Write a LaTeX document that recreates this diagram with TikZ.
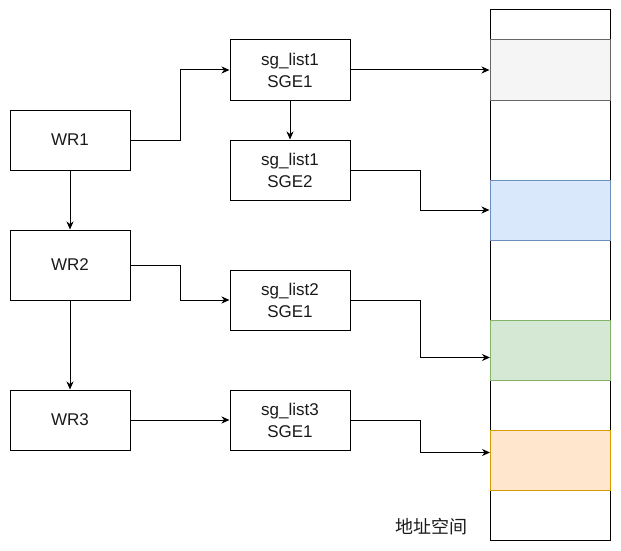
\documentclass[tikz,border=0pt]{standalone}
\usepackage{fontspec}
\setmainfont{Liberation Sans}
\newfontfamily\cjk{Noto Sans CJK SC}
\usetikzlibrary{arrows.meta,calc}
\definecolor{txt}{HTML}{1A1A1A}
\definecolor{grayfill}{HTML}{F5F5F5}
\definecolor{grayline}{HTML}{666666}
\definecolor{bluefill}{HTML}{DAE8FC}
\definecolor{blueline}{HTML}{6C8EBF}
\definecolor{greenfill}{HTML}{D5E8D4}
\definecolor{greenline}{HTML}{82B366}
\definecolor{orangefill}{HTML}{FFE6CC}
\definecolor{orangeline}{HTML}{D79B00}
\begin{document}
\begin{tikzpicture}[x=1pt,y=-1pt,line width=1pt,
  box/.style={draw=black,fill=white,rectangle,minimum width=120pt,minimum height=60pt,inner sep=0pt,
    align=center,font=\fontsize{17}{22}\selectfont,text=txt},
  blk/.style={rectangle,minimum width=120pt,minimum height=60pt,inner sep=0pt},
  arr/.style={-{Stealth[length=8pt,width=7pt,inset=2.5pt]}}]
\useasboundingbox (0,0) rectangle (621,551);
% memory column
\node[draw=black,fill=white,rectangle,minimum width=120pt,minimum height=530pt,inner sep=0pt] (mem) at (550,275) {};
\node[blk,draw=grayline,fill=grayfill] (gray) at (550,70) {};
\node[blk,draw=blueline,fill=bluefill] (blue) at (550,210) {};
\node[blk,draw=greenline,fill=greenfill] (green) at (550,350) {};
\node[blk,draw=orangeline,fill=orangefill] (orange) at (550,460) {};
\coordinate (t3) at (490,357.5);
\coordinate (t4) at (490,452.5);
\node[font=\cjk\fontsize{18}{20}\selectfont,text=txt] (lbl) at (431,527) {地址空间};
% WR nodes
\node[box] (wr1) at (70,140) {WR1};
\node[box,minimum height=70pt] (wr2) at (70,265) {WR2};
\node[box] (wr3) at (70,420) {WR3};
% SGE nodes
\node[box] (s11) at (290,70) {sg\_list1\\SGE1};
\node[box] (s12) at (290,170) {sg\_list1\\SGE2};
\node[box] (s2) at (290,300) {sg\_list2\\SGE1};
\node[box] (s3) at (290,420) {sg\_list3\\SGE1};
% connectors
\draw[arr] (wr1.east) -- ++(50,0) |- (s11.west);
\draw[arr] (s11.east) -- (gray.west);
\draw[arr] (s11.south) -- (s12.north);
\draw[arr] (s12.east) -- ++(70,0) |- (blue.west);
\draw[arr] (wr1.south) -- (wr2.north);
\draw[arr] (wr2.east) -- ++(50,0) |- (s2.west);
\draw[arr] (s2.east) -- ++(70,0) |- (t3);
\draw[arr] (wr2.south) -- (wr3.north);
\draw[arr] (wr3.east) -- (s3.west);
\draw[arr] (s3.east) -- ++(70,0) |- (t4);
\end{tikzpicture}
\end{document}
